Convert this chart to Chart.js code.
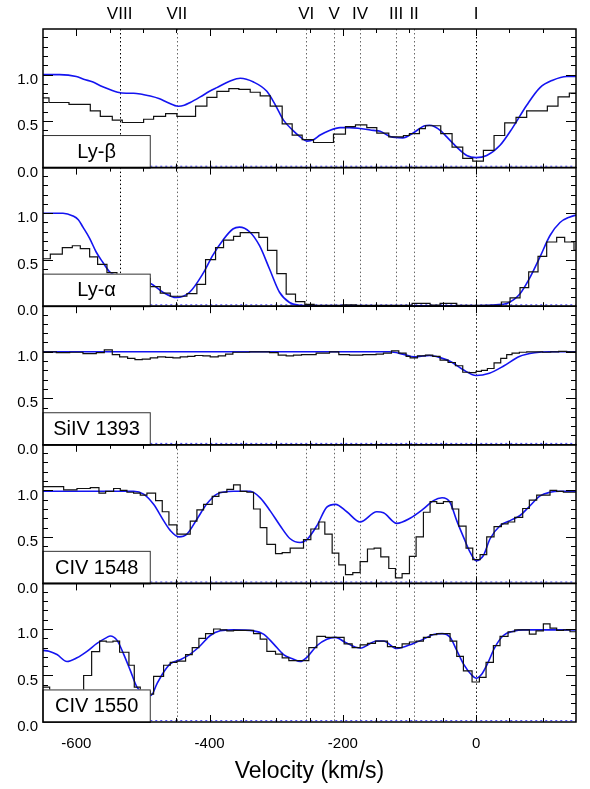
<!DOCTYPE html>
<html>
<head>
<meta charset="utf-8">
<script src="https://cdn.jsdelivr.net/npm/chart.js@4.4.0/dist/chart.umd.min.js"></script>
<style>
  html, body { margin: 0; padding: 0; background: #fff; }
  #wrap { width: 590px; height: 789px; position: relative; }
</style>
</head>
<body>
<div id="wrap"><canvas id="spectraChart" width="590" height="789"></canvas></div>
<script>
// velocity (km/s) where each histogram step starts, and the normalised flux of that step
const lybHistV = [-650,-641,-611,-579,-564,-546,-531,-499,-484,-466,-449,-421,-404,-389,-371,-356,-339,-324,-309,-291,-276,-261,-244,-214,-196,-181,-164,-149,-131,-109,-100,-85,-76,-53,-36,-20,-5,11,27,43,60,76,107,123,140];
const lybHistF = [0.75,0.70,0.68,0.61,0.55,0.51,0.485,0.52,0.55,0.58,0.55,0.66,0.755,0.82,0.85,0.84,0.81,0.77,0.66,0.47,0.35,0.30,0.27,0.36,0.44,0.46,0.43,0.37,0.33,0.345,0.365,0.42,0.45,0.365,0.22,0.10,0.07,0.185,0.345,0.48,0.54,0.61,0.66,0.76,0.80];
const lybModelV = [-650,-625,-600,-589,-575,-564,-550,-538,-525,-514,-500,-489,-475,-463,-447,-438,-429,-414,-400,-389,-369,-354,-334,-314,-301,-289,-275,-264,-254,-244,-234,-220,-204,-190,-174,-154,-144,-129,-110,-95,-77,-70,-62,-52,-44,-29,-14,0,16,36,55,76,96,115,136,150];
const lybModelF = [1.0,1.0,0.98,0.95,0.92,0.88,0.84,0.81,0.80,0.80,0.785,0.77,0.74,0.70,0.66,0.67,0.70,0.76,0.82,0.86,0.93,0.96,0.92,0.82,0.67,0.51,0.40,0.33,0.285,0.30,0.35,0.40,0.43,0.43,0.42,0.40,0.39,0.335,0.32,0.37,0.45,0.455,0.44,0.39,0.33,0.22,0.13,0.107,0.13,0.24,0.43,0.67,0.86,0.94,0.98,0.98];

const lyaHistV = [-650,-639,-621,-606,-594,-580,-568,-554,-539,-489,-474,-459,-434,-419,-406,-391,-379,-364,-354,-340,-326,-313,-299,-285,-271,-257,-243,-200,-180,-96,-69,-54,-29,38,51,66,79,93,106,121,133,147];
const lyaHistF = [0.51,0.56,0.63,0.65,0.62,0.53,0.45,0.36,0.30,0.21,0.14,0.107,0.135,0.235,0.50,0.63,0.71,0.75,0.79,0.79,0.74,0.60,0.35,0.13,0.05,0.02,0.01,0.015,0.008,0.03,0.012,0.03,0.01,0.045,0.09,0.20,0.37,0.535,0.69,0.74,0.69,0.60];
const lyaModelV = [-650,-620,-605,-597,-590,-580,-570,-560,-550,-530,-510,-490,-470,-450,-430,-410,-395,-380,-365,-355,-340,-325,-310,-295,-280,-265,-250,0,30,46,66,81,96,111,126,141,150];
const lyaModelF = [1.0,1.0,0.97,0.93,0.85,0.73,0.58,0.47,0.37,0.30,0.27,0.25,0.15,0.093,0.15,0.35,0.55,0.71,0.83,0.85,0.80,0.65,0.40,0.15,0.04,0.01,0.005,0.005,0.015,0.03,0.135,0.31,0.53,0.76,0.90,0.96,0.98];

const siivHistV = [-650,-630,-610,-590,-570,-558,-546,-535,-523,-512,-501,-489,-478,-466,-455,-444,-433,-422,-410,-399,-387,-376,-365,-340,-310,-297,-285,-274,-262,-240,-220,-206,-190,-170,-150,-139,-127,-116,-105,-99,-88,-76,-65,-54,-42,-31,-20,-10,0,8,17,27,37,46,54,65,76,88,100,112,124,136];
const siivHistF = [1.0,0.99,0.995,0.98,0.99,1.02,0.97,0.945,0.93,0.915,0.92,0.935,0.945,0.94,0.935,0.945,0.95,0.96,0.955,0.945,0.955,0.975,0.995,1.0,0.99,0.965,0.955,0.965,0.97,0.985,1.0,0.97,0.965,0.97,0.975,0.985,1.01,0.985,0.95,0.935,0.955,0.965,0.95,0.91,0.885,0.85,0.78,0.775,0.79,0.80,0.82,0.88,0.93,0.97,0.985,0.995,1.0,1.0,0.995,1.0,1.005,1.0];
const siivModelV = [-650,-400,-200,-130,-110,-93,-80,-70,-55,-37,-20,0,20,42,65,88,110,150];
const siivModelF = [1.0,1.0,1.0,1.0,0.975,0.945,0.955,0.96,0.94,0.89,0.81,0.745,0.77,0.85,0.95,0.99,1.0,1.0];

const civ1548HistV = [-650,-619,-599,-579,-566,-556,-544,-534,-524,-514,-504,-494,-481,-471,-461,-449,-439,-429,-419,-409,-396,-386,-374,-364,-354,-344,-334,-324,-314,-301,-291,-279,-259,-248,-236,-227,-216,-206,-196,-185,-174,-163,-153,-143,-131,-121,-111,-100,-90,-79,-69,-59,-49,-36,-26,-15,-5,6,16,27,38,48,58,70,80,91,101,111,121,131];
const civ1548HistF = [1.04,1.005,1.02,1.03,0.97,0.99,1.02,1.0,0.98,0.97,0.95,0.97,0.89,0.77,0.63,0.53,0.53,0.67,0.79,0.85,0.935,0.98,1.01,1.06,0.99,0.98,0.80,0.60,0.42,0.32,0.33,0.38,0.47,0.585,0.66,0.53,0.325,0.20,0.095,0.115,0.235,0.37,0.38,0.285,0.16,0.06,0.105,0.29,0.50,0.765,0.88,0.86,0.88,0.80,0.615,0.38,0.255,0.31,0.50,0.61,0.64,0.66,0.71,0.805,0.895,0.95,0.95,1.00,0.99,0.98];
const civ1548ModelV = [-650,-550,-514,-499,-484,-469,-459,-446,-434,-419,-404,-389,-364,-339,-324,-309,-294,-279,-264,-254,-239,-224,-211,-194,-174,-149,-139,-119,-99,-79,-64,-51,-39,-29,-19,-9,0,11,21,36,51,66,81,96,111,126,150];
const civ1548ModelF = [0.99,0.99,0.99,0.96,0.85,0.675,0.57,0.50,0.53,0.69,0.855,0.96,0.99,0.99,0.92,0.78,0.62,0.48,0.44,0.47,0.62,0.82,0.85,0.77,0.66,0.77,0.76,0.645,0.70,0.80,0.89,0.92,0.87,0.675,0.50,0.335,0.245,0.30,0.48,0.62,0.675,0.73,0.835,0.94,0.98,0.99,0.99];

const civ1550HistV = [-650,-640,-615,-589,-577,-565,-555,-545,-535,-521,-513,-504,-489,-484,-469,-459,-449,-436,-426,-416,-406,-394,-384,-374,-364,-334,-324,-314,-301,-291,-281,-251,-239,-226,-213,-198,-186,-174,-163,-151,-133,-121,-111,-100,-90,-79,-69,-59,-39,-29,-19,-6,5,15,26,36,48,58,71,80,90,101,111,121,131,141];
const civ1550HistF = [0.375,0.33,0.30,0.50,0.757,0.87,0.86,0.87,0.75,0.61,0.375,0.33,0.30,0.49,0.61,0.64,0.655,0.725,0.80,0.90,0.95,1.00,0.99,0.98,0.985,0.95,0.89,0.76,0.73,0.69,0.66,0.80,0.92,0.91,0.91,0.84,0.80,0.83,0.845,0.87,0.81,0.80,0.84,0.86,0.87,0.91,0.94,0.95,0.87,0.705,0.55,0.43,0.48,0.64,0.82,0.92,0.97,0.99,0.99,0.945,0.98,1.055,1.01,0.985,0.99,0.97];
const civ1550ModelV = [-650,-641,-629,-614,-599,-584,-569,-554,-549,-539,-529,-519,-509,-498,-488,-479,-469,-459,-444,-429,-414,-399,-384,-364,-334,-319,-304,-289,-274,-264,-254,-239,-224,-211,-196,-174,-149,-139,-119,-94,-79,-64,-51,-39,-29,-19,-6,0,8,18,28,41,56,71,150];
const civ1550ModelF = [0.77,0.76,0.725,0.65,0.69,0.76,0.845,0.91,0.925,0.88,0.73,0.555,0.375,0.30,0.285,0.41,0.535,0.625,0.67,0.73,0.82,0.93,0.98,0.99,0.98,0.945,0.84,0.725,0.675,0.65,0.695,0.82,0.89,0.91,0.855,0.795,0.87,0.87,0.79,0.845,0.89,0.94,0.95,0.91,0.77,0.625,0.50,0.47,0.51,0.64,0.80,0.93,0.975,0.99,0.99];

// absorption components marked by dotted lines
const componentNames = ["VIII","VII","VI","V","IV","III","II","I"];
const componentV = [-535,-449,-255,-213,-174,-120,-93,0];

const panelNames = ["Ly-\u03b2","Ly-\u03b1","SiIV 1393","CIV 1548","CIV 1550"];
const xTickLabels = [-600,-400,-200,0];
const yTickLabels = [0, 0.5, 1.0];

const VMIN = -650, VMAX = 150, FMAX = 1.49;
const FONT = "'Liberation Sans', Arial, Helvetica, sans-serif";

const panels = [
  { hv: lybHistV, hf: lybHistF, mv: lybModelV, mf: lybModelF, comps: [0,1,2,3,4,5,6,7] },
  { hv: lyaHistV, hf: lyaHistF, mv: lyaModelV, mf: lyaModelF, comps: [0,1,2,3,4,5,6,7] },
  { hv: siivHistV, hf: siivHistF, mv: siivModelV, mf: siivModelF, comps: [6,7] },
  { hv: civ1548HistV, hf: civ1548HistF, mv: civ1548ModelV, mf: civ1548ModelF, comps: [1,2,3,4,5,6,7] },
  { hv: civ1550HistV, hf: civ1550HistF, mv: civ1550ModelV, mf: civ1550ModelF, comps: [1,2,3,4,5,6,7] }
];

const datasets = [];
const scales = {
  x: {
    type: 'linear', min: VMIN, max: VMAX,
    afterFit: s => { s.height = 67; },
    grid: { display: false, drawTicks: false },
    border: { display: false },
    ticks: {
      stepSize: 50, autoSkip: false, maxRotation: 0, padding: 13, color: '#000',
      font: { family: FONT, size: 15 },
      callback: v => xTickLabels.includes(v) ? String(v) : ''
    },
    title: { display: true, text: 'Velocity (km/s)', color: '#000',
      font: { family: FONT, size: 23 }, padding: { top: 0, bottom: 4 } }
  }
};

panels.forEach((p, i) => {
  const yId = 'y' + i;
  scales[yId] = {
    type: 'linear', position: 'left', stack: 'panels', stackWeight: 1,
    weight: panels.length - i,
    min: 0, max: FMAX,
    afterFit: s => { s.width = 43; },
    grid: { display: false, drawTicks: false },
    border: { display: false },
    ticks: {
      stepSize: 0.1, autoSkip: false, padding: 5, labelOffset: 5, color: '#000',
      font: { family: FONT, size: 15 },
      callback: v => yTickLabels.some(t => Math.abs(v - t) < 1e-6) ? v.toFixed(1) : ''
    }
  };
  const hist = p.hv.map((v, k) => ({ x: v, y: p.hf[k] }));
  hist.push({ x: VMAX, y: p.hf[p.hf.length - 1] });
  datasets.push({
    data: hist, xAxisID: 'x', yAxisID: yId, stepped: true,
    borderColor: '#111', borderWidth: 1.2, pointRadius: 0, fill: false
  });
  datasets.push({
    data: p.mv.map((v, k) => ({ x: v, y: p.mf[k] })), xAxisID: 'x', yAxisID: yId,
    cubicInterpolationMode: 'monotone',
    borderColor: 'rgb(20,20,240)', borderWidth: 1.6, pointRadius: 0, fill: false
  });
});

const panelDecor = {
  id: 'panelDecor',
  beforeDatasetsDraw(chart) {
    const ctx = chart.ctx, xs = chart.scales.x;
    ctx.save();
    panels.forEach((p, i) => {
      const ys = chart.scales['y' + i];
      ctx.lineWidth = 1;
      p.comps.forEach(c => {
        const px = Math.round(xs.getPixelForValue(componentV[c])) + 0.5;
        ctx.strokeStyle = (c === 0 || c === 7) ? '#000' : '#666';
        ctx.setLineDash([1.5, 2.5]);
        ctx.beginPath();
        ctx.moveTo(px, ys.top);
        ctx.lineTo(px, ys.bottom);
        ctx.stroke();
      });
      // zero level
      ctx.strokeStyle = 'rgb(60,60,255)';
      ctx.setLineDash([2, 3]);
      const zy = ys.getPixelForValue(0.015);
      ctx.beginPath();
      ctx.moveTo(xs.getPixelForValue(-489), zy);
      ctx.lineTo(xs.getPixelForValue(VMAX), zy);
      ctx.stroke();
    });
    ctx.restore();
  },
  afterDatasetsDraw(chart) {
    const ctx = chart.ctx, xs = chart.scales.x;
    ctx.save();
    ctx.setLineDash([]);
    ctx.strokeStyle = '#000';
    ctx.lineWidth = 1;
    panels.forEach((p, i) => {
      const ys = chart.scales['y' + i];
      const L = xs.left, R = xs.right, T = ys.top, B = ys.bottom;
      // inward ticks
      ctx.beginPath();
      for (let k = 1; k < 15; k++) {
        const py = Math.round(ys.getPixelForValue(k / 10)) + 0.5;
        const len = k % 5 === 0 ? 10 : 5;
        ctx.moveTo(L, py); ctx.lineTo(L + len, py);
        ctx.moveTo(R, py); ctx.lineTo(R - len, py);
      }
      for (let v = VMIN + 50; v < VMAX; v += 50) {
        const px = Math.round(xs.getPixelForValue(v)) + 0.5;
        const len = v % 200 === 0 ? 7 : 4;
        ctx.moveTo(px, T); ctx.lineTo(px, T + len);
        ctx.moveTo(px, B); ctx.lineTo(px, B - len);
      }
      ctx.stroke();
      // label box
      const bx1 = xs.getPixelForValue(-489);
      const by = ys.getPixelForValue(0.35);
      ctx.fillStyle = '#fff';
      ctx.fillRect(L, by, bx1 - L, B - by);
      ctx.strokeStyle = '#333';
      ctx.strokeRect(L, by + 0.5, bx1 - L, B - by);
      ctx.fillStyle = '#000';
      ctx.font = '20px ' + FONT;
      ctx.textAlign = 'center';
      ctx.textBaseline = 'middle';
      ctx.fillText(panelNames[i], (L + bx1) / 2, (by + B) / 2 + 1);
      // frame
      ctx.strokeStyle = '#000';
      ctx.lineWidth = 1.5;
      ctx.strokeRect(L, T, R - L, B - T);
      ctx.lineWidth = 1;
    });
    // component names above the top panel
    ctx.fillStyle = '#000';
    ctx.font = '17px ' + FONT;
    ctx.textAlign = 'center';
    ctx.textBaseline = 'middle';
    componentNames.forEach((n, c) => {
      ctx.fillText(n, xs.getPixelForValue(componentV[c]), 14);
    });
    ctx.restore();
  }
};

new Chart(document.getElementById('spectraChart'), {
  type: 'line',
  data: { datasets: datasets },
  options: {
    responsive: false,
    animation: false,
    devicePixelRatio: 1,
    layout: { padding: { top: 29, right: 14, left: 0, bottom: 0 } },
    plugins: { legend: { display: false }, tooltip: { enabled: false } },
    scales: scales
  },
  plugins: [panelDecor]
});
</script>
</body>
</html>
